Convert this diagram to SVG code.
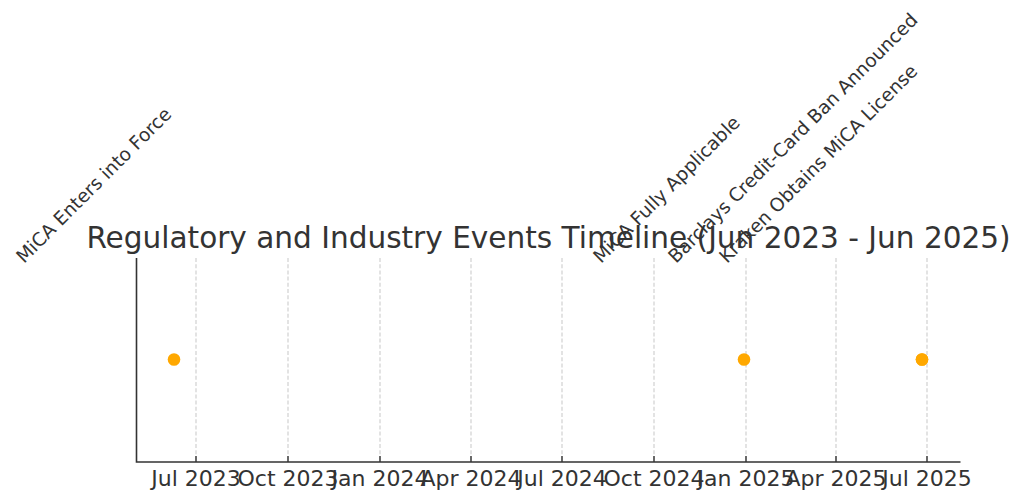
<svg xmlns="http://www.w3.org/2000/svg" width="1024" height="504" viewBox="0 0 1024 504">
<style>
text{font-family:"DejaVu Sans","Liberation Sans",sans-serif;fill:#333333}
.title{font-size:29.55px;text-anchor:middle}
.tick{font-size:22px;text-anchor:middle}
.lbl{font-size:18.6px}
.grid{stroke:#cccccc;stroke-width:1.1;stroke-dasharray:4 2.2;fill:none}
.spine{stroke:#333333;stroke-width:1.6;fill:none}
.tm{stroke:#333333;stroke-width:1.4}
.dot{fill:#FFA800}
</style>
<rect width="1024" height="504" fill="#ffffff"/>
<g id="axes">
<g id="grid">
<line class="grid" x1="196" y1="258" x2="196" y2="462"/>
<line class="grid" x1="288" y1="258" x2="288" y2="462"/>
<line class="grid" x1="380" y1="258" x2="380" y2="462"/>
<line class="grid" x1="471" y1="258" x2="471" y2="462"/>
<line class="grid" x1="562" y1="258" x2="562" y2="462"/>
<line class="grid" x1="654" y1="258" x2="654" y2="462"/>
<line class="grid" x1="746" y1="258" x2="746" y2="462"/>
<line class="grid" x1="836" y1="258" x2="836" y2="462"/>
<line class="grid" x1="927" y1="258" x2="927" y2="462"/>
</g>
<path class="spine" d="M136.5,258 V462 H960.5"/>
<g id="ticks">
<line class="tm" x1="196" y1="456" x2="196" y2="462"/>
<line class="tm" x1="288" y1="456" x2="288" y2="462"/>
<line class="tm" x1="380" y1="456" x2="380" y2="462"/>
<line class="tm" x1="471" y1="456" x2="471" y2="462"/>
<line class="tm" x1="562" y1="456" x2="562" y2="462"/>
<line class="tm" x1="654" y1="456" x2="654" y2="462"/>
<line class="tm" x1="746" y1="456" x2="746" y2="462"/>
<line class="tm" x1="836" y1="456" x2="836" y2="462"/>
<line class="tm" x1="927" y1="456" x2="927" y2="462"/>
</g>
<g id="ticklabels">
<text class="tick" x="196" y="486">Jul 2023</text>
<text class="tick" x="288" y="486">Oct 2023</text>
<text class="tick" x="380" y="486">Jan 2024</text>
<text class="tick" x="471" y="486">Apr 2024</text>
<text class="tick" x="562" y="486">Jul 2024</text>
<text class="tick" x="654" y="486">Oct 2024</text>
<text class="tick" x="746" y="486">Jan 2025</text>
<text class="tick" x="836" y="486">Apr 2025</text>
<text class="tick" x="927" y="486">Jul 2025</text>
</g>
</g>
<text id="title" class="title" x="548.5" y="248">Regulatory and Industry Events Timeline (Jun 2023 - Jun 2025)</text>
<g id="connectors"></g>
<g id="event-mica-force">
<circle class="dot" cx="174" cy="359.5" r="6.3"/>
<text class="lbl" transform="translate(24,264) rotate(-45)">MiCA Enters into Force</text>
</g>
<g id="event-mica-applicable">
<circle class="dot" cx="744" cy="359.5" r="6.3"/>
<text class="lbl" transform="translate(601,264) rotate(-45)">MiCA Fully Applicable</text>
</g>
<g id="event-barclays">
<circle class="dot" cx="922" cy="359.5" r="6.3"/>
<text class="lbl" transform="translate(676,264) rotate(-45)">Barclays Credit-Card Ban Announced</text>
</g>
<g id="event-kraken">
<circle class="dot" cx="922" cy="359.5" r="6.3"/>
<text class="lbl" transform="translate(727,264) rotate(-45)">Kraken Obtains MiCA License</text>
</g>
</svg>
